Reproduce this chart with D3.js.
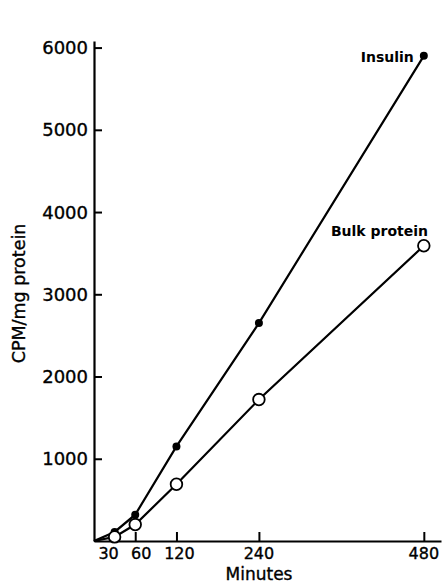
<!DOCTYPE html>
<html>
<head>
<meta charset="utf-8">
<script src="https://cdn.jsdelivr.net/npm/d3@7"></script>
<style>
  body { margin: 0; background: #fff; }
  text { font-family: "DejaVu Sans", sans-serif; fill: #000; stroke: #000; stroke-width: 0.35px; }
</style>
</head>
<body>
<div id="chart"></div>
<script>
// data
const minutes = [30, 60, 120, 240, 480];
const insulin = [110, 320, 1150, 2650, 5900];
const bulkProtein = [50, 200, 690, 1720, 3590];
const xTicks = [30, 60, 120, 240, 480];
const yTicks = [1000, 2000, 3000, 4000, 5000, 6000];

const width = 444, height = 584;
const margin = { top: 41, right: 3, bottom: 43, left: 94 };

const svg = d3.select('#chart').append('svg')
  .attr('width', width)
  .attr('height', height);

const x = d3.scaleLinear().domain([0, 505]).range([margin.left, width - margin.right]);
const y = d3.scaleLinear().domain([0, 6080]).range([height - margin.bottom, margin.top]);

// axes: ticks point into the plot
const gx = svg.append('g')
  .attr('transform', `translate(0,${y(0)})`)
  .call(d3.axisTop(x).tickValues(xTicks).tickSize(9).tickSizeOuter(0).tickFormat(''));
const gy = svg.append('g')
  .attr('transform', `translate(${x(0)},0)`)
  .call(d3.axisRight(y).tickValues(yTicks).tickSize(8).tickSizeOuter(0).tickFormat(''));

[gx, gy].forEach(g => {
  g.select('.domain').attr('stroke', '#000').attr('stroke-width', 2.2);
  g.selectAll('.tick line').attr('stroke', '#000').attr('stroke-width', 2);
});

// tick labels (the first two are pushed apart a little, as in the print)
svg.append('g').selectAll('text')
  .data(xTicks)
  .join('text')
  .attr('x', d => x(d) + (d === 30 ? -6 : d === 60 ? 6 : d === 120 ? 3 : 0))
  .attr('y', y(0) + 18)
  .attr('text-anchor', 'middle')
  .attr('font-size', 16)
  .text(d => d);

svg.append('g').selectAll('text')
  .data(yTicks)
  .join('text')
  .attr('x', x(0) - 6)
  .attr('y', d => y(d) + 6.5)
  .attr('text-anchor', 'end')
  .attr('font-size', 18)
  .text(d => d);

// axis titles
svg.append('text')
  .attr('x', 259)
  .attr('y', 580)
  .attr('text-anchor', 'middle')
  .attr('font-size', 17)
  .text('Minutes');

svg.append('text')
  .attr('transform', `translate(25,${y(3010)}) rotate(-90)`)
  .attr('text-anchor', 'middle')
  .attr('font-size', 17.5)
  .text('CPM/mg protein');

// lines start from the origin
const line = d3.line()
  .x(d => x(d[0]))
  .y(d => y(d[1]));

const insulinPts = [[0, 0]].concat(minutes.map((m, i) => [m, insulin[i]]));
const bulkPts = [[0, 0]].concat(minutes.map((m, i) => [m, bulkProtein[i]]));

svg.append('path')
  .datum(insulinPts)
  .attr('fill', 'none')
  .attr('stroke', '#000')
  .attr('stroke-width', 2.2)
  .attr('d', line);

svg.append('path')
  .datum(bulkPts)
  .attr('fill', 'none')
  .attr('stroke', '#000')
  .attr('stroke-width', 2.2)
  .attr('d', line);

svg.append('g').selectAll('circle')
  .data(minutes)
  .join('circle')
  .attr('cx', d => x(d))
  .attr('cy', (d, i) => y(insulin[i]))
  .attr('r', 4)
  .attr('fill', '#000');

svg.append('g').selectAll('circle')
  .data(minutes)
  .join('circle')
  .attr('cx', d => x(d))
  .attr('cy', (d, i) => y(bulkProtein[i]))
  .attr('r', 5.8)
  .attr('fill', '#fff')
  .attr('stroke', '#000')
  .attr('stroke-width', 1.8);

// series labels
svg.append('text')
  .attr('x', x(480) - 10)
  .attr('y', y(insulin[4]) + 6)
  .attr('text-anchor', 'end')
  .attr('font-size', 14)
  .attr('font-weight', 'bold')
  .style('stroke-width', 0)
  .text('Insulin');

svg.append('text')
  .attr('x', 428)
  .attr('y', 236)
  .attr('text-anchor', 'end')
  .attr('font-size', 14)
  .attr('font-weight', 'bold')
  .style('stroke-width', 0)
  .text('Bulk protein');
</script>
</body>
</html>
